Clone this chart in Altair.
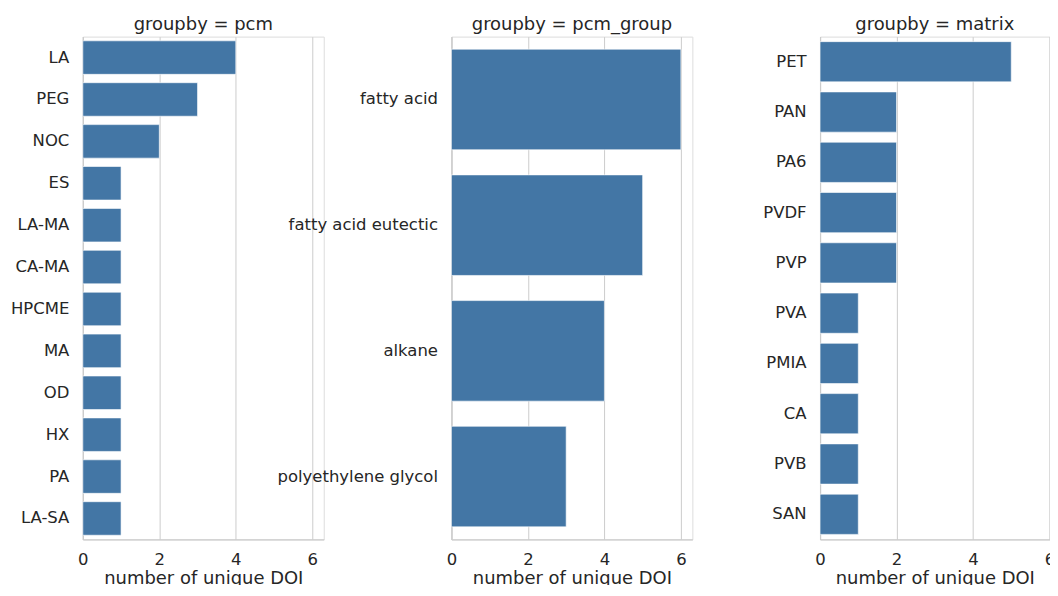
import altair as alt
import pandas as pd

pcm_names = ["LA", "PEG", "NOC", "ES", "LA-MA", "CA-MA", "HPCME", "MA", "OD", "HX", "PA", "LA-SA"]
pcm_counts = [4, 3, 2, 1, 1, 1, 1, 1, 1, 1, 1, 1]

group_names = ["fatty acid", "fatty acid eutectic", "alkane", "polyethylene glycol"]
group_counts = [6, 5, 4, 3]

matrix_names = ["PET", "PAN", "PA6", "PVDF", "PVP", "PVA", "PMIA", "CA", "PVB", "SAN"]
matrix_counts = [5, 2, 2, 2, 2, 1, 1, 1, 1, 1]

x_ticks = [0, 2, 4, 6]

FONT = "DejaVu Sans"
TXT = "#262626"
GRID = "#cccccc"
BAR = "#4376a5"
PX_PER_UNIT = 241.5 / 6.3
H = 504


def panel(names, counts, title, extent, width):
    df = pd.DataFrame({"name": names, "count": counts})
    return alt.Chart(df, title=alt.TitleParams(
        title, fontSize=18, font=FONT, color=TXT, fontWeight="normal",
        baseline="alphabetic", offset=8, dy=19, anchor="middle")).mark_bar(
        color=BAR, stroke="white", strokeWidth=0.6
    ).encode(
        x=alt.X("count:Q",
                scale=alt.Scale(domain=[0, width / PX_PER_UNIT], nice=False, zero=True),
                axis=alt.Axis(title="number of unique DOI", values=x_ticks,
                              format="d", grid=True, gridColor=GRID,
                              domainColor=GRID, domainWidth=1.2,
                              ticks=False, tickSize=0, labelPadding=12,
                              labelFlush=False,
                              labelFontSize=16.5, titleFontSize=18,
                              titlePadding=2, labelFont=FONT, titleFont=FONT,
                              labelColor=TXT, titleColor=TXT,
                              titleFontWeight="normal")),
        y=alt.Y("name:N", sort=names,
                scale=alt.Scale(paddingInner=0.2, paddingOuter=0.1),
                axis=alt.Axis(title=None, ticks=False, tickSize=0,
                              labelPadding=14, labelFontSize=16.5,
                              labelFont=FONT, labelColor=TXT,
                              domainColor=GRID, domainWidth=1.2,
                              grid=False, minExtent=extent,
                              maxExtent=extent, labelLimit=400)),
    ).properties(width=width, height=H)


c1 = panel(pcm_names, pcm_counts, "groupby = pcm", 74, 241.5)
c2 = panel(group_names, group_counts, "groupby = pcm_group", 130, 241.5)
c3 = panel(matrix_names, matrix_counts, "groupby = matrix", 130, 230)

chart = alt.hconcat(c1, c2, c3, spacing=127.5, bounds="flush").properties(
    padding={"left": 0, "top": 6, "right": -5.5, "bottom": -4}
).resolve_scale(y="independent").configure_view(stroke=None).configure(
    background="white")

chart.save("out.html", embed_options={"renderer": "svg", "actions": False})
